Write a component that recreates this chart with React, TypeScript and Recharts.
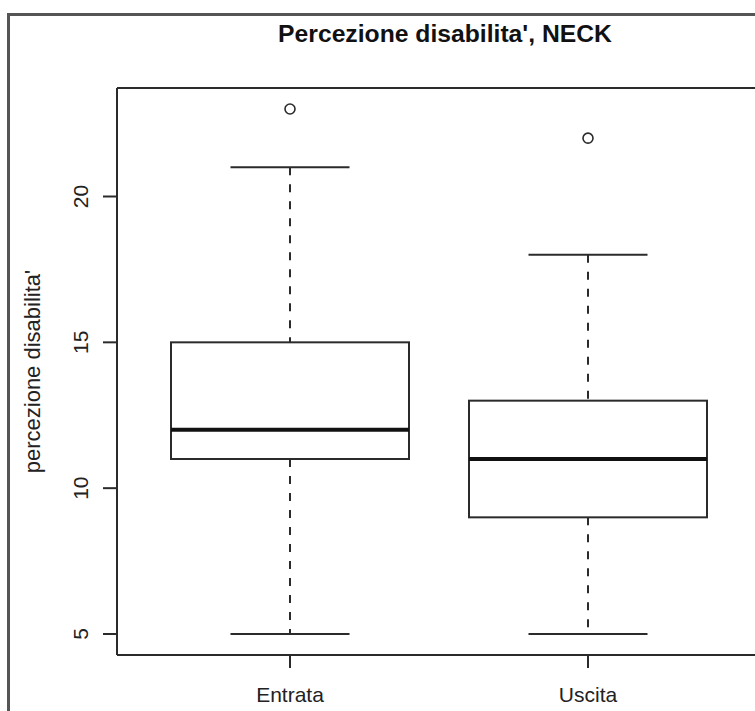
import React from 'react';
import { ComposedChart, Bar, Scatter, XAxis, YAxis, Label, ReferenceLine } from 'recharts';

// boxplot stats
const groups = ['Entrata', 'Uscita'];
const whiskerLow = [5, 5];
const lowerQuartile = [11, 9];
const medians = [12, 11];
const upperQuartile = [15, 13];
const whiskerHigh = [21, 18];
const outliers = [23, 22];
const yTicks = [5, 10, 15, 20];
const yDomain = [4.28, 23.72]; // R pads the 5..23 range by 4%

const rows = groups.map((name, i) => ({
  name,
  low: whiskerLow[i],
  q1: lowerQuartile[i],
  median: medians[i],
  q3: upperQuartile[i],
  high: whiskerHigh[i],
  outlier: outliers[i],
}));

const FONT = '"Liberation Sans", Arial, Helvetica, sans-serif';
const INK = '#2b2b2b';

// the bar spans low..high, the rest is placed on the same linear scale
const BoxShape = (props: any) => {
  const { x, y, width, height, payload } = props;
  const { low, q1, median, q3, high } = payload;
  const py = (v: number) => y + (height * (high - v)) / (high - low);
  const cx = x + width / 2;
  const cap = width / 4;
  return (
    <g>
      <line x1={cx} x2={cx} y1={py(high)} y2={py(q3)} stroke={INK} strokeWidth={2} strokeDasharray="8 9" />
      <line x1={cx} x2={cx} y1={py(q1)} y2={py(low)} stroke={INK} strokeWidth={2} strokeDasharray="8 9" />
      <line x1={cx - cap} x2={cx + cap} y1={py(high)} y2={py(high)} stroke={INK} strokeWidth={2} />
      <line x1={cx - cap} x2={cx + cap} y1={py(low)} y2={py(low)} stroke={INK} strokeWidth={2} />
      <rect x={x} y={py(q3)} width={width} height={py(q1) - py(q3)} fill="#fff" stroke={INK} strokeWidth={2} />
      <line x1={x} x2={x + width} y1={py(median)} y2={py(median)} stroke="#111" strokeWidth={4} />
    </g>
  );
};

const OutlierDot = (props: any) => {
  const { cx, cy } = props;
  return <circle cx={cx} cy={cy} r={5} fill="none" stroke={INK} strokeWidth={1.6} />;
};

const YTick = (props: any) => {
  const { x, y, payload } = props;
  return (
    <text x={x} y={y} transform={`rotate(-90, ${x}, ${y})`} textAnchor="middle" fontSize={21} fontFamily={FONT} fill="#222">
      {payload.value}
    </text>
  );
};

const YTitle = (props: any) => {
  const { viewBox } = props;
  const cy = viewBox.y + viewBox.height / 2;
  return (
    <text x={40} y={cy} transform={`rotate(-90, 40, ${cy})`} textAnchor="middle" fontSize={22} fontFamily={FONT} fill="#222">
      percezione disabilita'
    </text>
  );
};

export default function App() {
  return (
    <div style={{ position: 'fixed', left: 0, top: 0, width: 755, height: 711, overflow: 'hidden', background: '#fff' }}>
      {/* scanned page frame */}
      <div style={{ position: 'absolute', left: 7, top: 13, width: 900, height: 900, borderTop: '3px solid #555', borderLeft: '3px solid #555' }} />
      <div
        style={{
          position: 'absolute',
          left: 245,
          top: 20,
          width: 400,
          textAlign: 'center',
          fontFamily: FONT,
          fontWeight: 'bold',
          fontSize: 24.7,
          color: '#111',
          lineHeight: '28px',
        }}
      >
        Percezione disabilita', NECK
      </div>
      <div style={{ position: 'absolute', left: 0, top: 0 }}>
        <ComposedChart width={800} height={711} data={rows} margin={{ top: 88, right: 39, bottom: 0, left: 0 }}>
          <XAxis
            dataKey="name"
            padding={{ left: 24, right: 24 }}
            height={56}
            tickSize={13}
            tickMargin={19}
            axisLine={{ stroke: INK, strokeWidth: 2 }}
            tickLine={{ stroke: INK, strokeWidth: 2 }}
            tick={{ fontSize: 21, fontFamily: FONT, fill: '#222' }}
          />
          <YAxis
            type="number"
            domain={yDomain}
            ticks={yTicks}
            allowDataOverflow
            width={117}
            tickSize={14}
            tickMargin={15}
            axisLine={{ stroke: INK, strokeWidth: 2 }}
            tickLine={{ stroke: INK, strokeWidth: 2 }}
            tick={<YTick />}
          >
            <Label content={<YTitle />} />
          </YAxis>
          {/* top edge of the plot box */}
          <ReferenceLine y={yDomain[1]} stroke={INK} strokeWidth={2} ifOverflow="visible" />
          <Bar dataKey={(d: any) => [d.low, d.high]} barSize={238} shape={<BoxShape />} isAnimationActive={false} />
          <Scatter dataKey="outlier" shape={<OutlierDot />} isAnimationActive={false} />
        </ComposedChart>
      </div>
    </div>
  );
}
